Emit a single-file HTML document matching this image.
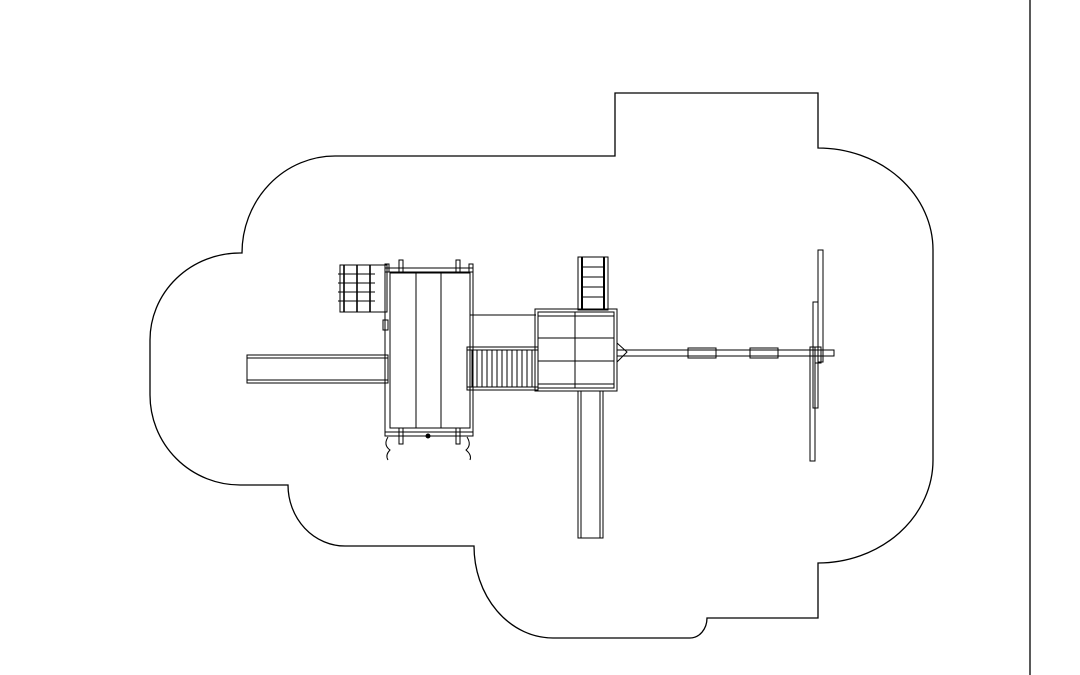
<!DOCTYPE html>
<html><head><style>html,body{margin:0;padding:0;background:#fff;width:1080px;height:675px;overflow:hidden}</style></head>
<body>
<svg width="1080" height="675" viewBox="0 0 1080 675" xmlns="http://www.w3.org/2000/svg" fill="none" stroke="#000" stroke-width="1.3">
<line x1="1030" y1="0" x2="1030" y2="675"/>
<path d="M615 93 L818 93 L818 148 A115 102 0 0 1 933 250 L933 460 A115 103 0 0 1 818 563 L818 618 L707 618 A17 20 0 0 1 690 638 L553 638 A79 92 0 0 1 474 546 L345 546 A57 61 0 0 1 288 485 L240 485 A90 90 0 0 1 150 395 L150 340 A90 87 0 0 1 240 253 L242 253 A93 97 0 0 1 335 156 L615 156 Z"/>
<g stroke-width="1">
<!-- left slide -->
<rect x="247" y="355" width="141" height="28"/>
<line x1="247" y1="358" x2="388" y2="358"/>
<line x1="247" y1="380" x2="388" y2="380"/>
<!-- climbing wall -->
<rect x="340" y="265" width="47" height="47"/>
<g stroke-width="1.6"><line x1="344" y1="265" x2="344" y2="312"/><line x1="357" y1="265" x2="357" y2="312"/><line x1="370" y1="265" x2="370" y2="312"/></g>
<line x1="338" y1="274" x2="375" y2="274"/><line x1="338" y1="283" x2="375" y2="283"/><line x1="338" y1="292" x2="375" y2="292"/><line x1="338" y1="301" x2="375" y2="301"/>
<rect x="383" y="320" width="5" height="10"/>
<!-- main tower frame -->
<rect x="385" y="268" width="88" height="168"/>
<rect x="385" y="264" width="4" height="8"/><rect x="399" y="260" width="4" height="16"/><rect x="456" y="260" width="4" height="16"/><rect x="469" y="264" width="4" height="8"/>
<rect x="399" y="428" width="4" height="16"/><rect x="456" y="428" width="4" height="16"/>
<line x1="385" y1="272" x2="473" y2="272"/><line x1="385" y1="432" x2="473" y2="432"/>
<rect x="390" y="273" width="80" height="155" fill="#fff"/>
<line x1="416" y1="273" x2="416" y2="428"/><line x1="441" y1="273" x2="441" y2="428"/>
<circle cx="428" cy="436" r="2" fill="#000"/>
<path d="M388 437 Q383 445 390 450 Q385 455 388 460"/>
<path d="M467 437 Q472 445 466 450 Q472 455 470 460"/>
<!-- upper link -->
<line x1="470" y1="315" x2="536" y2="315"/>
<!-- bridge -->
<rect x="467" y="347" width="71" height="43"/>
<line x1="467" y1="350" x2="538" y2="350"/><line x1="467" y1="387" x2="538" y2="387"/>
<g id="sl"><line x1="472" y1="350" x2="472" y2="387"/><line x1="477" y1="350" x2="477" y2="387"/><line x1="482" y1="350" x2="482" y2="387"/><line x1="487" y1="350" x2="487" y2="387"/><line x1="492" y1="350" x2="492" y2="387"/><line x1="497" y1="350" x2="497" y2="387"/><line x1="502" y1="350" x2="502" y2="387"/><line x1="507" y1="350" x2="507" y2="387"/><line x1="512" y1="350" x2="512" y2="387"/><line x1="517" y1="350" x2="517" y2="387"/><line x1="522" y1="350" x2="522" y2="387"/><line x1="527" y1="350" x2="527" y2="387"/><line x1="532" y1="350" x2="532" y2="387"/></g>
<!-- ladder -->
<rect x="578" y="257" width="30" height="53"/>
<line x1="582" y1="257" x2="582" y2="310" stroke-width="2"/><line x1="604" y1="257" x2="604" y2="310" stroke-width="2"/>
<line x1="582" y1="267" x2="604" y2="267"/><line x1="582" y1="277" x2="604" y2="277"/><line x1="582" y1="287" x2="604" y2="287"/><line x1="582" y1="297" x2="604" y2="297"/>
<!-- right deck -->
<rect x="535" y="309" width="82" height="82"/>
<rect x="538" y="312" width="76" height="76"/>
<line x1="575" y1="312" x2="575" y2="388"/><line x1="538" y1="338" x2="614" y2="338"/><line x1="538" y1="361" x2="614" y2="361"/>
<line x1="538" y1="316" x2="614" y2="316"/><line x1="538" y1="384" x2="614" y2="384"/>
<path d="M617 343 L627 352 L617 362"/>
<!-- bottom slide -->
<rect x="578" y="391" width="25" height="147"/>
<line x1="581" y1="391" x2="581" y2="538"/><line x1="600" y1="391" x2="600" y2="538"/>
<!-- swing beam -->
<rect x="617" y="350" width="217" height="6"/>
<rect x="688" y="348" width="28" height="10"/><rect x="750" y="348" width="28" height="10"/>
<!-- A-frame legs -->
<rect x="818" y="250" width="5" height="112"/>
<rect x="813" y="302" width="5" height="106"/>
<rect x="810" y="347" width="5" height="114"/>
<rect x="815" y="347" width="6" height="16"/>
</g>
</svg>
</body></html>
